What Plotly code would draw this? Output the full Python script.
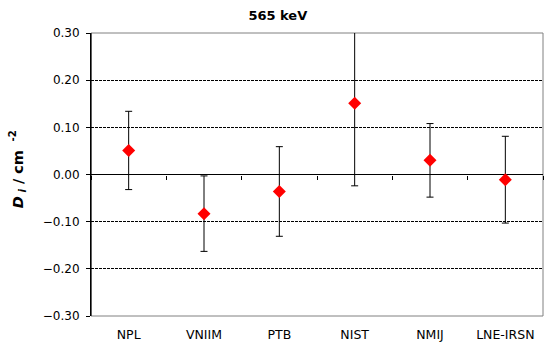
import plotly.graph_objects as go

labs = ["NPL", "VNIIM", "PTB", "NIST", "NMIJ", "LNE-IRSN"]
di = [0.051, -0.083, -0.036, 0.151, 0.030, -0.011]
ui = [0.083, 0.080, 0.095, 0.175, 0.078, 0.092]
yticks = [-0.3, -0.2, -0.1, 0.0, 0.1, 0.2, 0.3]

xpos = list(range(len(labs)))
bounds = [i - 0.5 for i in range(len(labs) + 1)]
FONT = "DejaVu Sans, Verdana, sans-serif"

fig = go.Figure()
fig.add_trace(go.Scatter(
    x=xpos, y=di, mode="markers",
    marker=dict(symbol="diamond", size=10, color="#ff0000", line=dict(width=0)),
    error_y=dict(type="data", array=ui, visible=True, color="black", thickness=1, width=3.5),
    showlegend=False, cliponaxis=True,
))
# invisible trace for the zero-line category axis
fig.add_trace(go.Scatter(x=bounds, y=[0] * len(bounds), xaxis="x2", mode="markers",
                         marker=dict(opacity=0), showlegend=False, hoverinfo="skip"))

fig.update_layout(
    width=548, height=353,
    margin=dict(l=91, r=5, t=33, b=37),
    plot_bgcolor="white", paper_bgcolor="white",
    font=dict(family=FONT, size=11, color="black"),
    title=dict(text="<b>565 keV</b>", x=0.507, xanchor="center", y=0.955, yanchor="middle",
               font=dict(family=FONT, size=13, color="black")),
    xaxis=dict(range=[-0.5, len(labs) - 0.5], tickvals=xpos, ticktext=labs,
               showgrid=False, zeroline=False, showline=False, ticks="",
               ticklabelstandoff=9, tickfont=dict(size=12.5, family=FONT)),
    xaxis2=dict(range=[-0.5, len(labs) - 0.5], overlaying="x", anchor="free", position=0.5,
                side="bottom", tickvals=bounds, showticklabels=False, ticks="outside",
                ticklen=4, tickcolor="black", showline=False,
                showgrid=False, zeroline=False),
    yaxis=dict(range=[-0.3, 0.3], tickvals=yticks, tickformat=".2f",
               showgrid=True, gridcolor="black", griddash="3px,1px", gridwidth=1,
               zeroline=True, zerolinecolor="black", zerolinewidth=1,
               showline=True, linecolor="black", linewidth=1,
               ticks="outside", ticklen=4, tickcolor="black",
               ticklabelstandoff=4, tickfont=dict(size=12, family=FONT)),
    shapes=[dict(type="rect", xref="paper", yref="paper", x0=0, x1=1, y0=0, y1=1,
                 line=dict(color="#808080", width=1), layer="between")],
    annotations=[dict(
        text="<b><i>D</i><sub><i> i</i></sub> / cm <sup> -2</sup></b>",
        xref="paper", yref="paper", x=-0.163, y=0.52, xanchor="center", yanchor="middle",
        textangle=-90, showarrow=False, font=dict(family=FONT, size=14.5, color="black"))],
)
# keep left axis line black above the grey frame
fig.add_shape(type="line", xref="paper", yref="paper", x0=0, x1=0, y0=0, y1=1,
              line=dict(color="black", width=1), layer="between")

fig.write_html("out.html")
